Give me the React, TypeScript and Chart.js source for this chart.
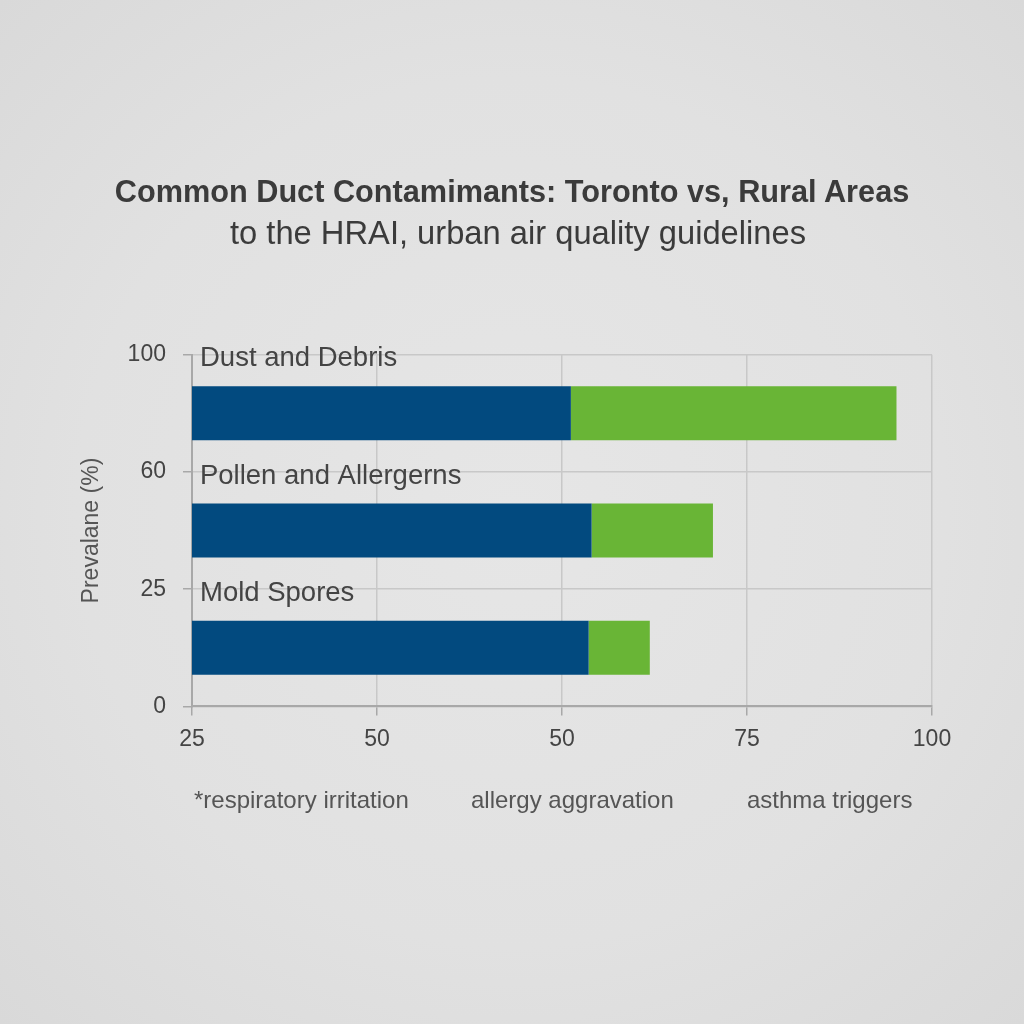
import { useEffect, useRef } from "react";
import { Chart } from "chart.js/auto";

const FONT = "'Liberation Sans', Arial, sans-serif";

const titleText = "Common Duct Contamimants: Toronto vs, Rural Areas";
const subtitleText = "to the HRAI, urban air quality guidelines";

// categories listed top to bottom, as they appear in the chart
const categories = ["Dust and Debris", "Pollen and Allergerns", "Mold Spores"];
const torontoValues = [63.4, 65.5, 65.2];
const ruralValues = [33.0, 12.3, 6.2];
const xTickLabels = ["25", "50", "50", "75", "100"];
const yTickLabels = ["0", "25", "60", "100"];
const footnotes = ["*respiratory irritation", "allergy aggravation", "asthma triggers"];

const categoryLabels = {
  id: "categoryLabels",
  afterDatasetsDraw(chart: any) {
    const meta = chart.getDatasetMeta(0);
    const ctx = chart.ctx;
    ctx.save();
    ctx.font = `27.5px ${FONT}`;
    ctx.fillStyle = "#444444";
    ctx.textBaseline = "alphabetic";
    meta.data.forEach((el: any, i: number) => {
      const { y, height } = el.getProps(["y", "height"], true);
      ctx.fillText(categories[i], chart.chartArea.left + 8, y - height / 2 - 20);
    });
    ctx.restore();
  },
};

export default function App() {
  const canvasRef = useRef<HTMLCanvasElement>(null);

  useEffect(() => {
    let chart: Chart | undefined;
    if (canvasRef.current) {
      const pos = (i: number) => categories.length - i - 0.5;
      chart = new Chart(canvasRef.current, {
        type: "bar",
        data: {
          datasets: [
            {
              label: "Toronto",
              data: torontoValues.map((v, i) => ({ x: v, y: pos(i) })),
              backgroundColor: "#024a7f",
              borderWidth: 0,
              categoryPercentage: 1.0,
              barPercentage: 0.46,
            },
            {
              label: "Rural Areas",
              data: ruralValues.map((v, i) => ({ x: v, y: pos(i) })),
              backgroundColor: "#69b536",
              borderWidth: 0,
              categoryPercentage: 1.0,
              barPercentage: 0.46,
            },
          ],
        },
        options: {
          indexAxis: "y",
          animation: false,
          responsive: true,
          maintainAspectRatio: false,
          layout: { padding: { left: 38, right: 92, top: 354.7, bottom: 261 } },
          plugins: {
            legend: { display: false },
            tooltip: { enabled: false },
          },
          scales: {
            x: {
              type: "linear",
              stacked: true,
              min: 25,
              max: 100,
              ticks: {
                stepSize: 18.75,
                padding: 10,
                color: "#444444",
                font: { family: FONT, size: 23 },
                callback: (_v: any, i: number) => xTickLabels[i],
              },
              grid: { color: "#c8c8c8", lineWidth: 1.5, tickLength: 9, tickColor: "#a8a8a8" },
              border: { color: "#a8a8a8", width: 2 },
            },
            y: {
              type: "linear",
              stacked: true,
              offset: false,
              min: 0,
              max: 3,
              ticks: {
                stepSize: 1,
                padding: 17,
                color: "#444444",
                font: { family: FONT, size: 23 },
                callback: (_v: any, i: number) => yTickLabels[i],
              },
              grid: { offset: false, color: "#c8c8c8", lineWidth: 1.5, tickLength: 9, tickColor: "#a8a8a8" },
              border: { color: "#a8a8a8", width: 2 },
              title: {
                display: true,
                text: "Prevalane (%)",
                color: "#555555",
                font: { family: FONT, size: 23 },
                padding: { top: 40, bottom: 5 },
              },
            },
          },
        },
        plugins: [categoryLabels],
      });
    }
    return () => {
      if (chart) chart.destroy();
    };
  }, []);

  const footLeft = [194, 471, 747];

  return (
    <div
      style={{
        position: "absolute",
        left: 0,
        top: 0,
        width: 1024,
        height: 1024,
        background: "radial-gradient(ellipse at center, #e6e6e6 0%, #e1e1e1 60%, #d9d9d9 100%)",
        fontFamily: FONT,
      }}
    >
      <canvas ref={canvasRef}></canvas>
      <div
        style={{
          position: "absolute",
          left: 0,
          top: 174,
          width: 1024,
          textAlign: "center",
          fontSize: 30.7,
          fontWeight: "bold",
          lineHeight: "36px",
          color: "#3b3b3b",
          whiteSpace: "nowrap",
        }}
      >
        {titleText}
      </div>
      <div
        style={{
          position: "absolute",
          left: 6,
          top: 214,
          width: 1024,
          textAlign: "center",
          fontSize: 32.7,
          lineHeight: "38px",
          color: "#3b3b3b",
          whiteSpace: "nowrap",
        }}
      >
        {subtitleText}
      </div>
      {footnotes.map((t, i) => (
        <div
          key={t}
          style={{
            position: "absolute",
            left: footLeft[i],
            top: 786,
            fontSize: 24,
            lineHeight: "28px",
            color: "#555555",
            whiteSpace: "nowrap",
          }}
        >
          {t}
        </div>
      ))}
    </div>
  );
}
